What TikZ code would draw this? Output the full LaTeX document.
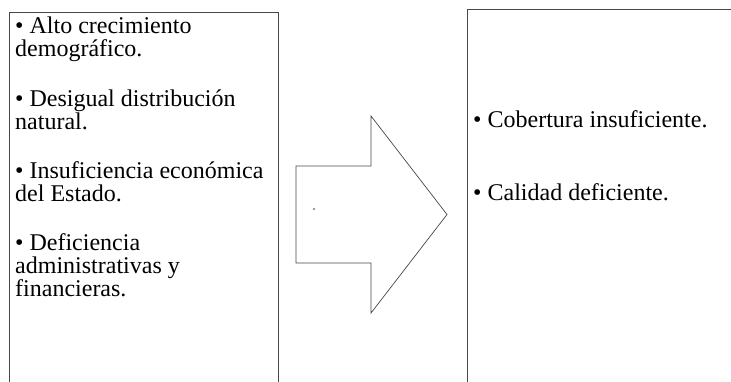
\documentclass[tikz,border=0pt]{standalone}
\usepackage{fontspec}
\setmainfont{Liberation Serif}
\begin{document}
\begin{tikzpicture}[x=1pt,y=-1pt,
  panel/.style={draw=black!72,line width=0.8pt,inner sep=0pt,outer sep=0pt},
  line/.style={anchor=base west,inner sep=0pt,font=\fontsize{24}{23}\selectfont},
  blockarrow/.style={draw=black!72,line width=0.7pt,line join=miter}]
\clip (0,0) rectangle (731,381);
\fill[white] (0,0) rectangle (731,381);

% two panels, open at the bottom (and at the right for the second one)
\node[panel,minimum width=269pt,minimum height=400pt,anchor=north west] (causes) at (9,12) {};
\node[panel,minimum width=300pt,minimum height=400pt,anchor=north west] (effects) at (467,9.5) {};

% causes
\node[line] (c1a) at (15,33)  {• Alto crecimiento};
\node[line] (c1b) at (15,56)  {demográfico.};
\node[line] (c2a) at (15,106) {• Desigual distribución};
\node[line] (c2b) at (15,129) {natural.};
\node[line] (c3a) at (15,178) {• Insuficiencia económica};
\node[line] (c3b) at (15,201) {del Estado.};
\node[line] (c4a) at (15,250) {• Deficiencia};
\node[line] (c4b) at (15,273) {administrativas y};
\node[line] (c4c) at (15,296) {financieras.};

% effects
\node[line] (e1) at (473,127) {• Cobertura insuficiente.};
\node[line] (e2) at (473,200) {• Calidad deficiente.};

% block arrow between the panels
\coordinate (tip) at (447,214.5);
\draw[blockarrow] (296,166) -- (371,166) -- (371,116) -- (tip)
  -- (371,313) -- (371,263) -- (296,263) -- cycle;
\fill[black!80] (314,209) circle (0.9pt);
\end{tikzpicture}
\end{document}
